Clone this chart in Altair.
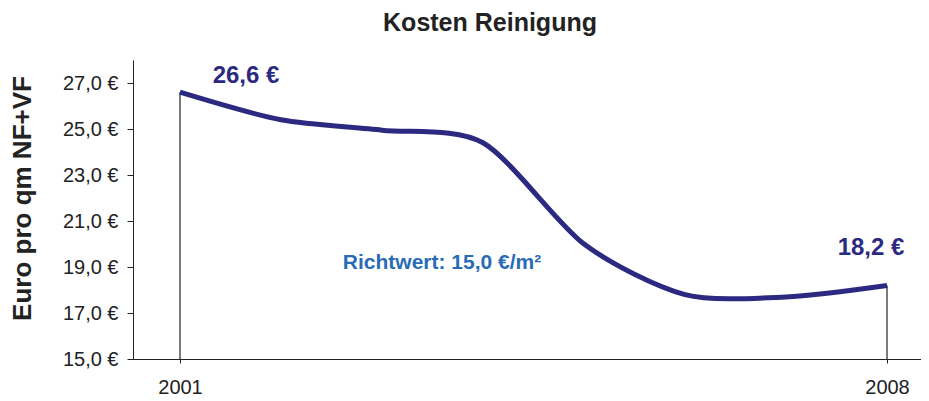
import altair as alt
import pandas as pd

years = [2001, 2002, 2003, 2004, 2005, 2006, 2007, 2008]
costs = [26.6, 25.4, 24.95, 24.4, 20.0, 17.8, 17.7, 18.2]
y_ticks = [15, 17, 19, 21, 23, 25, 27]
x_ticks = [2001, 2008]
end_labels = ["26,6 €", "18,2 €"]
note_text = ["Richtwert: 15,0 €/m²"]
title_text = "Kosten Reinigung"
y_title = "Euro pro qm NF+VF"

FONT = "Liberation Sans"
LINE_COLOR = "#2B2A80"
DARK = "#222222"

df = pd.DataFrame({"year": years, "cost": costs})
ends = pd.DataFrame({
    "year": [years[0], years[-1]],
    "cost": [costs[0], costs[-1]],
    "base": [y_ticks[0], y_ticks[0]],
    "label": end_labels,
})
notes = pd.DataFrame({"note": note_text})

xscale = alt.Scale(domain=[2000.5346, 2008.3366], nice=False, zero=False)
yscale = alt.Scale(domain=[15, 28], nice=False, zero=False)

x_axis = alt.Axis(values=x_ticks, format="d", title=None, grid=False,
                  tickSize=4, labelPadding=14, labelFontSize=20, labelFont=FONT,
                  labelColor=DARK, domainColor=DARK, tickColor=DARK)
y_axis = alt.Axis(values=y_ticks,
                  labelExpr="replace(format(datum.value, '.1f'), '.', ',') + ' €'",
                  title=y_title, titleFontSize=26, titleFontWeight="bold", titleFont=FONT,
                  titleColor=DARK, titleX=-111, titleY=138, titleAngle=-90,
                  titleAlign="center", titleBaseline="middle",
                  tickSize=6, labelPadding=9, grid=False, labelFontSize=20, labelFont=FONT,
                  labelColor=DARK, domainColor=DARK, tickColor=DARK)

base = alt.Chart(df)

line = base.mark_line(interpolate="cardinal", tension=0.2, color=LINE_COLOR, strokeWidth=5).encode(
    x=alt.X("year:Q", scale=xscale, axis=x_axis),
    y=alt.Y("cost:Q", scale=yscale, axis=y_axis),
)

drops = alt.Chart(ends).mark_rule(color=DARK, strokeWidth=1.2).encode(
    x=alt.X("year:Q", scale=xscale),
    y=alt.Y("base:Q", scale=yscale),
    y2="cost:Q",
)

lab_first = alt.Chart(ends).transform_filter(alt.datum.year == years[0]).mark_text(
    font=FONT, fontSize=24, fontWeight="bold", color=LINE_COLOR, dx=66, dy=-16
).encode(x=alt.X("year:Q", scale=xscale), y=alt.Y("cost:Q", scale=yscale), text="label:N")

lab_last = alt.Chart(ends).transform_filter(alt.datum.year == years[-1]).mark_text(
    font=FONT, fontSize=24, fontWeight="bold", color=LINE_COLOR, dx=-16, dy=-37
).encode(x=alt.X("year:Q", scale=xscale), y=alt.Y("cost:Q", scale=yscale), text="label:N")

note = alt.Chart(notes).mark_text(
    font=FONT, fontSize=21, fontWeight="bold", color="#2A6BB5"
).encode(x=alt.value(309), y=alt.value(203), text="note:N")

chart = alt.layer(drops, line, lab_first, lab_last, note).properties(
    width=788, height=299,
    title=alt.TitleParams(title_text, font=FONT, fontSize=25, fontWeight="bold",
                          color=DARK, anchor="middle", dx=-37, offset=24),
    autosize=alt.AutoSizeParams(type="none"),
    padding={"left": 125, "top": 52, "right": 0, "bottom": 40},
).configure_view(stroke=None)

chart.save("out.html", embed_options={"renderer": "svg", "actions": False})
